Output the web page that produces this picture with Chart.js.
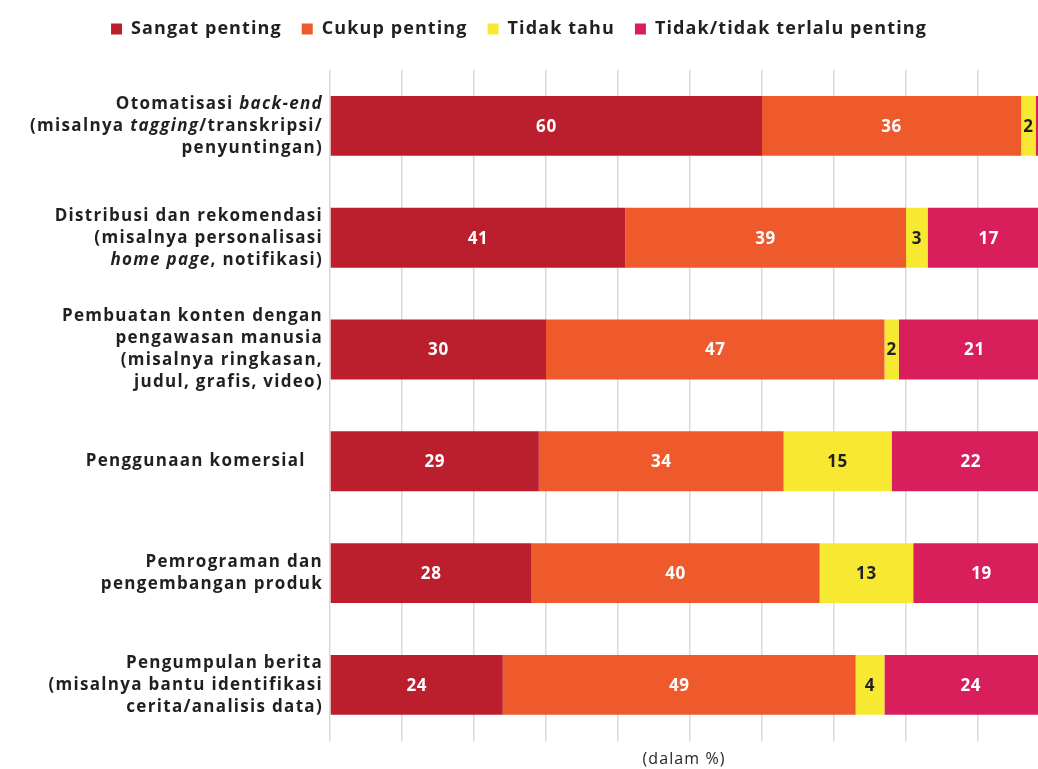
<!DOCTYPE html>
<html>
<head>
<meta charset="utf-8">
<script src="https://cdn.jsdelivr.net/npm/chart.js@4.4.1/dist/chart.umd.min.js"></script>
<style>
  body { margin: 0; background: #fff; }
  #wrap { width: 1038px; height: 769px; }
</style>
</head>
<body>
<div id="wrap"><canvas id="chart"></canvas></div>
<script>
// category labels, *text* = italic
const categories = [
  ['Otomatisasi *back-end*', '(misalnya *tagging*/transkripsi/', 'penyuntingan)'],
  ['Distribusi dan rekomendasi', '(misalnya personalisasi', '*home page*, notifikasi)'],
  ['Pembuatan konten dengan', 'pengawasan manusia', '(misalnya ringkasan,', 'judul, grafis, video)'],
  ['Penggunaan komersial   '],
  ['Pemrograman dan', 'pengembangan produk'],
  ['Pengumpulan berita', '(misalnya bantu identifikasi', 'cerita/analisis data)']
];

const seriesNames = ['Sangat penting', 'Cukup penting', 'Tidak tahu', 'Tidak/tidak terlalu penting'];
const sangatPenting = [60, 41, 30, 29, 28, 24];
const cukupPenting  = [36, 39, 47, 34, 40, 49];
const tidakTahu     = [2, 3, 2, 15, 13, 4];
const tidakPenting  = [2, 17, 21, 22, 19, 24];
const colors = ['#bb1e2d', '#ee5a2b', '#f7e831', '#d81f5b'];

const FONT = '"Open Sans", sans-serif';
const TEXT = '#231f20';

const spacing = {
  id: 'spacing',
  beforeLayout(chart) { chart.ctx.letterSpacing = '1.1px'; },
  beforeDraw(chart) { chart.ctx.letterSpacing = '1.1px'; }
};

const valueLabels = {
  id: 'valueLabels',
  afterDatasetsDraw(chart) {
    const ctx = chart.ctx;
    const area = chart.chartArea;
    ctx.save();
    ctx.letterSpacing = '0.6px';
    ctx.font = 'bold 17px ' + FONT;
    ctx.textAlign = 'center';
    ctx.textBaseline = 'middle';
    chart.data.datasets.forEach((ds, di) => {
      const meta = chart.getDatasetMeta(di);
      meta.data.forEach((bar, i) => {
        const cx = (bar.x + bar.base) / 2;
        if (cx > area.right) return;
        ctx.fillStyle = di === 2 ? TEXT : '#fff';
        ctx.fillText(ds.data[i], cx, bar.y + 1);
      });
    });
    ctx.restore();
  }
};

const categoryLabels = {
  id: 'categoryLabels',
  afterDraw(chart) {
    const ctx = chart.ctx;
    const y = chart.scales.y;
    const right = chart.chartArea.left - 7;
    const lh = 22;
    ctx.save();
    ctx.letterSpacing = '1.3px';
    ctx.fillStyle = TEXT;
    ctx.textBaseline = 'middle';
    ctx.textAlign = 'left';
    categories.forEach((lines, i) => {
      const cy = y.getPixelForValue(i);
      const top = cy - (lines.length - 1) * lh / 2;
      lines.forEach((line, li) => {
        const parts = line.split('*');
        let w = 0;
        parts.forEach((p, pi) => {
          ctx.font = (pi % 2 ? 'italic ' : '') + 'bold 17px ' + FONT;
          w += ctx.measureText(p).width;
        });
        let x = right - w;
        parts.forEach((p, pi) => {
          ctx.font = (pi % 2 ? 'italic ' : '') + 'bold 17px ' + FONT;
          ctx.fillText(p, x, top + li * lh);
          x += ctx.measureText(p).width;
        });
      });
    });
    ctx.restore();
  }
};

const legendSpace = {
  id: 'legendSpace',
  beforeInit(chart) {
    const fit = chart.legend.fit;
    chart.legend.fit = function () {
      fit.bind(chart.legend)();
      this.height += 22;
    };
  }
};

const allValues = [sangatPenting, cukupPenting, tidakTahu, tidakPenting];

new Chart(document.getElementById('chart'), {
  type: 'bar',
  data: {
    labels: categories.map(c => c.join(' ').replace(/\*/g, '')),
    datasets: seriesNames.map((name, i) => ({
      label: name,
      data: allValues[i],
      backgroundColor: colors[i],
      borderWidth: 0,
      barPercentage: 0.536,
      categoryPercentage: 1
    }))
  },
  options: {
    indexAxis: 'y',
    responsive: true,
    maintainAspectRatio: false,
    animation: false,
    layout: { padding: 0 },
    scales: {
      x: {
        stacked: true,
        min: 0,
        max: 98.33,
        afterBuildTicks: s => { s.ticks = s.ticks.filter(t => t.value % 10 === 0); },
        ticks: { display: false, stepSize: 10 },
        grid: { color: '#d9d9d9', lineWidth: 1.5, drawTicks: false },
        border: { display: false },
        title: {
          display: true,
          text: '(dalam %)',
          color: TEXT,
          font: { family: FONT, size: 16 },
          padding: { top: 9, bottom: 0 }
        }
      },
      y: {
        stacked: true,
        ticks: { display: false },
        grid: { display: false, drawTicks: false },
        border: { display: false },
        afterFit: s => { s.width = 330; }
      }
    },
    plugins: {
      legend: {
        position: 'top',
        labels: {
          color: TEXT,
          boxWidth: 11,
          boxHeight: 11,
          padding: 20,
          font: { family: FONT, size: 18, weight: 'bold' }
        }
      },
      tooltip: { enabled: false }
    }
  },
  plugins: [spacing, valueLabels, categoryLabels, legendSpace]
});
</script>
</body>
</html>
